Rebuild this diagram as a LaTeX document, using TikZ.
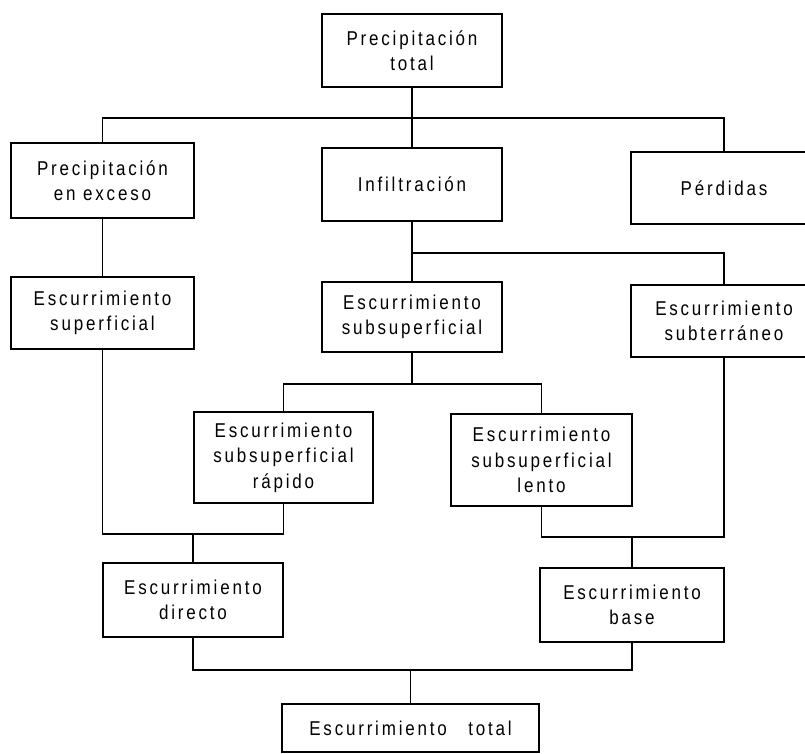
\documentclass[tikz,border=0pt]{standalone}
\usepackage{fontspec}
\setmainfont{Liberation Sans}[FakeStretch=0.85,LetterSpace=14]
\tikzset{
  box/.style={draw, line width=2pt, fill=white, inner sep=0pt, align=center,
    font=\fontsize{20}{25.5}\selectfont},
  conn/.style={line width=1.4pt, line join=miter}
}
\begin{document}
\begin{tikzpicture}[x=1pt,y=-1pt]
\useasboundingbox (0,0) rectangle (805,754);
\clip (0,0) rectangle (805,754);
% nodes
\node[box, minimum width=180pt, minimum height=73pt] (pt) at (412,50.5) {Precipitación\\total};
\node[box, minimum width=183pt, minimum height=75pt] (exc) at (102.5,180.5) {Precipitación\\en exceso};
\node[box, minimum width=180pt, minimum height=73pt] (inf) at (412,184.5) {Infiltración};
\node[box, minimum width=186pt, minimum height=71pt] (per) at (724,188) {Pérdidas};
\node[box, minimum width=183pt, minimum height=72pt] (sup) at (102.5,313) {Escurrimiento\\superficial};
\node[box, minimum width=180pt, minimum height=70pt] (sub) at (412,317) {Escurrimiento\\subsuperficial};
\node[box, minimum width=186pt, minimum height=72pt] (subt) at (724,321) {Escurrimiento\\subterráneo};
\node[box, minimum width=179pt, minimum height=91pt] (rap) at (283.5,457.5) {Escurrimiento\\subsuperficial\\rápido};
\node[box, minimum width=181pt, minimum height=92pt] (len) at (541.5,460) {Escurrimiento\\subsuperficial\\lento};
\node[box, minimum width=180pt, minimum height=74pt] (dir) at (193,600) {Escurrimiento\\directo};
\node[box, minimum width=184pt, minimum height=74pt] (base) at (632,605) {Escurrimiento\\base};
\node[box, minimum width=257pt, minimum height=48pt] (tot) at (410.5,728) {Escurrimiento\hspace{0.7em} total};
% junction coordinates
\coordinate (h1L) at (102.5,118); \coordinate (h1R) at (724,118);
\coordinate (h2L) at (412,253); \coordinate (h2R) at (724,253);
\coordinate (h3L) at (283.5,384); \coordinate (h3M) at (412,384); \coordinate (h3R) at (541.5,384);
\coordinate (h4L) at (102.5,534); \coordinate (h4M) at (193,534); \coordinate (h4R) at (283.5,534);
\coordinate (h5L) at (541.5,537); \coordinate (h5M) at (632,537); \coordinate (h5R) at (724,537);
\coordinate (h6L) at (193,670); \coordinate (h6M) at (410.5,670); \coordinate (h6R) at (632,670);
% connectors
\draw[conn] (pt) -- (inf);
\draw[conn] (exc.north) -- (h1L) -- (h1R) -- (per.north);
\draw[conn] (exc) -- (sup);
\draw[conn] (inf) -- (sub);
\draw[conn] (h2L) -- (h2R) -- (subt.north);
\draw[conn] (sub.south) -- (h3M);
\draw[conn] (rap.north) -- (h3L) -- (h3R) -- (len.north);
\draw[conn] (sup.south) -- (h4L) -- (h4R) -- (rap.south);
\draw[conn] (h4M) -- (dir.north);
\draw[conn] (len.south) -- (h5L) -- (h5R) -- (subt.south);
\draw[conn] (h5M) -- (base.north);
\draw[conn] (dir.south) -- (h6L) -- (h6R) -- (base.south);
\draw[conn] (h6M) -- (tot.north);
\end{tikzpicture}
\end{document}
